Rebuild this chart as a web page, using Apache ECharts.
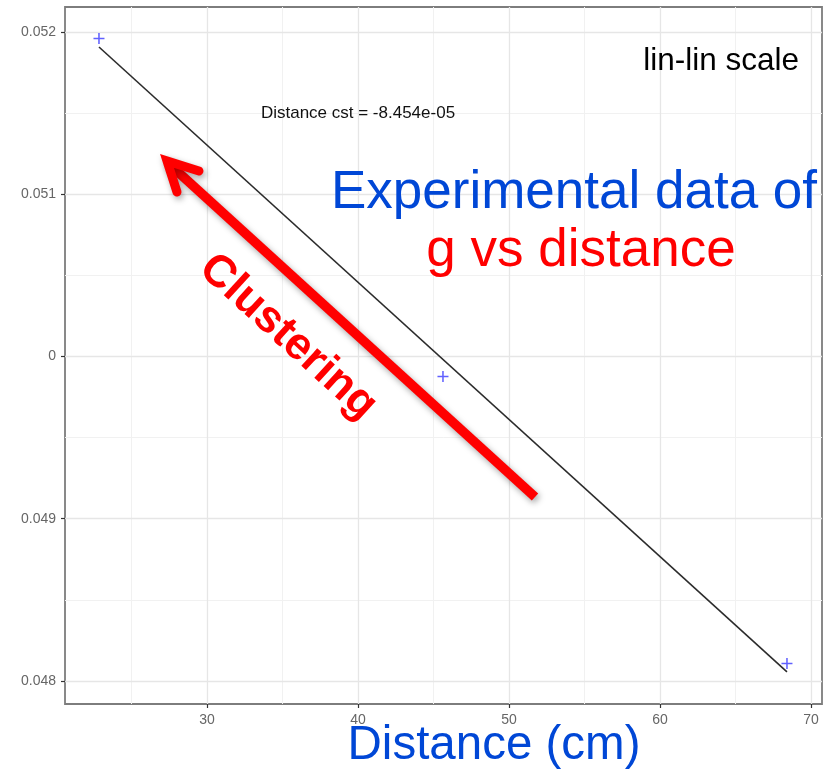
<!DOCTYPE html>
<html>
<head>
<meta charset="utf-8">
<script src="https://cdn.jsdelivr.net/npm/echarts@6/dist/echarts.min.js"></script>
<style>
  html, body { margin: 0; padding: 0; background: #fff; }
  #chart { width: 831px; height: 771px; }
</style>
</head>
<body>
<div id="chart"></div>
<script>
// Measured g values against distance
const distances = [22.85, 45.63, 68.41];
const gValues = [0.05196, 0.049877, 0.048108];

// Fitted slope reported in the annotation
const distanceSlope = -8.454e-05;

// Axis ticks and their labels
const xTickValues = [30, 40, 50, 60, 70];
const xTickLabels = ['30', '40', '50', '60', '70'];
const yTickValues = [0.048, 0.049, 0.050, 0.051, 0.052];
const yTickLabels = ['0.048', '0.049', '0', '0.051', '0.052'];
const xMinorValues = [25, 35, 45, 55, 65];
const yMinorValues = [0.0485, 0.0495, 0.0505, 0.0515];

// Axis extents
const xRange = [20.6, 70.73];
const yRange = [0.047858, 0.052154];

// Straight-line fit through the means with the reported slope
const meanX = distances.reduce((a, b) => a + b, 0) / distances.length;
const meanY = gValues.reduce((a, b) => a + b, 0) / gValues.length;
const intercept = meanY - distanceSlope * meanX;
const xLo = Math.min(...distances), xHi = Math.max(...distances);
const fitLine = [[xLo, intercept + distanceSlope * xLo], [xHi, intercept + distanceSlope * xHi]];

const FONT = '"Liberation Sans", Arial, Helvetica, sans-serif';

function labelFor(values, labels, v) {
  let best = 0;
  for (let i = 1; i < values.length; i++) {
    if (Math.abs(values[i] - v) < Math.abs(values[best] - v)) best = i;
  }
  return labels[best];
}

// Panel grid lines as segments spanning the full axis extents
const majorStyle = { color: '#e6e6e6', width: 1.3, type: 'solid' };
const minorStyle = { color: '#f1f1f1', width: 1, type: 'solid' };
const vLine = (v, style) => [{ coord: [v, yRange[0]], lineStyle: style }, { coord: [v, yRange[1]] }];
const hLine = (v, style) => [{ coord: [xRange[0], v], lineStyle: style }, { coord: [xRange[1], v] }];
const gridLines = []
  .concat(xMinorValues.map(v => vLine(v, minorStyle)))
  .concat(yMinorValues.map(v => hLine(v, minorStyle)))
  .concat(xTickValues.map(v => vLine(v, majorStyle)))
  .concat(yTickValues.map(v => hLine(v, majorStyle)));

const chart = echarts.init(document.getElementById('chart'), null, { renderer: 'canvas' });

chart.setOption({
  animation: false,
  backgroundColor: '#ffffff',
  grid: {
    left: 65, top: 7, right: 9, bottom: 67,
    show: true, borderColor: '#7d7d7d', borderWidth: 1.8, backgroundColor: 'transparent'
  },
  xAxis: {
    type: 'value',
    min: xRange[0], max: xRange[1],
    axisLine: { show: false },
    splitLine: { show: false },
    axisTick: { show: true, customValues: xTickValues, length: 4, lineStyle: { color: '#333', width: 1.2 } },
    axisLabel: {
      show: true, customValues: xTickValues, margin: 9,
      color: '#666', fontSize: 14, fontFamily: FONT,
      formatter: v => labelFor(xTickValues, xTickLabels, v)
    }
  },
  yAxis: {
    type: 'value',
    min: yRange[0], max: yRange[1],
    axisLine: { show: false },
    splitLine: { show: false },
    axisTick: { show: true, customValues: yTickValues, length: 4, lineStyle: { color: '#333', width: 1.2 } },
    axisLabel: {
      show: true, customValues: yTickValues, margin: 9,
      color: '#666', fontSize: 14, fontFamily: FONT,
      formatter: v => labelFor(yTickValues, yTickLabels, v)
    }
  },
  series: [
    {
      // panel grid (major and minor)
      type: 'line',
      z: 1,
      silent: true,
      data: fitLine,
      showSymbol: false,
      lineStyle: { opacity: 0 },
      markLine: {
        z: 1,
        silent: true,
        symbol: ['none', 'none'],
        label: { show: false },
        animation: false,
        data: gridLines
      }
    },
    {
      // fitted line
      type: 'line',
      z: 3,
      data: fitLine,
      showSymbol: false,
      lineStyle: { color: '#2b2b2b', width: 1.6 }
    },
    {
      // measured points
      type: 'scatter',
      z: 4,
      data: distances.map((d, i) => [d, gValues[i]]),
      symbol: 'path://M0,4.3h10v1.4h-10zM4.3,0h1.4v10h-1.4z',
      symbolSize: 11,
      itemStyle: { color: '#3a3aff' }
    }
  ],
  graphic: [
    {
      type: 'text', z: 10,
      style: { text: 'lin-lin scale', x: 799, y: 61, textAlign: 'right', textVerticalAlign: 'middle',
               fill: '#000', font: '31.5px ' + FONT }
    },
    {
      type: 'text', z: 10,
      style: { text: 'Distance cst = ' + distanceSlope.toExponential(3).replace('e-5', 'e-05'),
               x: 358, y: 113, textAlign: 'center', textVerticalAlign: 'middle',
               fill: '#111', font: '17px ' + FONT }
    },
    {
      type: 'text', z: 10,
      style: { text: 'Experimental data of', x: 574, y: 193, textAlign: 'center', textVerticalAlign: 'middle',
               fill: '#0047d6', font: '53px ' + FONT }
    },
    {
      type: 'text', z: 10,
      style: { text: 'g vs distance', x: 581, y: 251, textAlign: 'center', textVerticalAlign: 'middle',
               fill: '#ff0000', font: '53px ' + FONT }
    },
    {
      type: 'text', z: 10,
      style: { text: 'Distance (cm)', x: 494, y: 746, textAlign: 'center', textVerticalAlign: 'middle',
               fill: '#0047d6', font: '47.5px ' + FONT }
    },
    {
      // arrow shaft
      type: 'polyline', z: 8,
      shape: { points: [[535, 497], [167, 162]] },
      style: { stroke: '#ff0000', lineWidth: 9.5, lineCap: 'butt', fill: null,
               shadowBlur: 6, shadowColor: 'rgba(0,0,0,0.35)', shadowOffsetX: 2, shadowOffsetY: 3 }
    },
    {
      // arrow head
      type: 'polyline', z: 8,
      shape: { points: [[199, 171], [167, 161], [177, 192]] },
      style: { stroke: '#ff0000', lineWidth: 9, lineCap: 'round', lineJoin: 'miter', fill: null,
               shadowBlur: 6, shadowColor: 'rgba(0,0,0,0.35)', shadowOffsetX: 2, shadowOffsetY: 3 }
    },
    {
      type: 'text', z: 9,
      x: 288, y: 337,
      rotation: -0.738,
      style: { text: 'Clustering', x: 0, y: 0, textAlign: 'center', textVerticalAlign: 'middle',
               fill: '#ff0000', font: 'bold 45px ' + FONT }
    }
  ]
});
</script>
</body>
</html>
